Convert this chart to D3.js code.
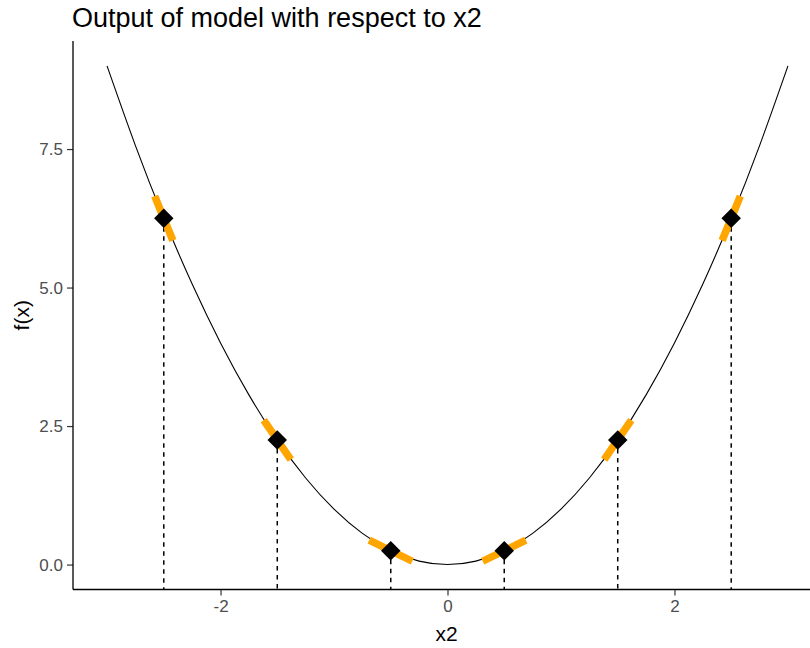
<!DOCTYPE html>
<html>
<head>
<meta charset="utf-8">
<script src="https://cdn.jsdelivr.net/npm/d3@7"></script>
<style>
  html, body { margin: 0; padding: 0; background: #fff; }
  svg { display: block; font-family: "Liberation Sans", Arial, sans-serif; }
</style>
</head>
<body>
<svg id="chart" width="810" height="648"></svg>
<script>
// Sampled model output f(x) along x2
const curveX = [-3, -2.75, -2.5, -2.25, -2, -1.75, -1.5, -1.25, -1, -0.75, -0.5, -0.25, 0,
                0.25, 0.5, 0.75, 1, 1.25, 1.5, 1.75, 2, 2.25, 2.5, 2.75, 3];
const curveY = [9, 7.5625, 6.25, 5.0625, 4, 3.0625, 2.25, 1.5625, 1, 0.5625, 0.25, 0.0625, 0,
                0.0625, 0.25, 0.5625, 1, 1.5625, 2.25, 3.0625, 4, 5.0625, 6.25, 7.5625, 9];

// Evaluation points with their local slopes
const pointX = [-2.5, -1.5, -0.5, 0.5, 1.5, 2.5];
const pointY = [6.25, 2.25, 0.25, 0.25, 2.25, 6.25];
const pointSlope = [-5, -3, -1, 1, 3, 5];

// Axis ticks
const xTicks = [-2, 0, 2];
const yTicks = [0, 2.5, 5, 7.5];
const yTickLabels = ["0.0", "2.5", "5.0", "7.5"];

const svg = d3.select("#chart");
const panel = { left: 73, right: 822, top: 41, bottom: 589.5 };

const x = d3.scaleLinear().domain([-3.3, 3.3]).range([panel.left, panel.right]);
const y = d3.scaleLinear().domain([-0.45, 9.45]).range([panel.bottom, panel.top]);

// Title
svg.append("text")
  .attr("x", 72).attr("y", 27)
  .attr("font-size", 27)
  .attr("fill", "#000")
  .text("Output of model with respect to x2");

// Axes
const xAxis = d3.axisBottom(x).tickValues(xTicks).tickSize(6).tickPadding(4)
  .tickFormat(d => d3.format("d")(d).replace("−", "-"));
const gx = svg.append("g").attr("transform", `translate(0,${panel.bottom})`).call(xAxis);
gx.select(".domain").remove();
gx.append("line").attr("x1", panel.left).attr("x2", 810).attr("stroke", "#000").attr("stroke-width", 1.3);

const yAxis = d3.axisLeft(y).tickValues(yTicks).tickSize(6).tickPadding(4)
  .tickFormat((d, i) => yTickLabels[i]);
const gy = svg.append("g").attr("transform", `translate(${panel.left},0)`).call(yAxis);
gy.select(".domain").remove();
gy.append("line").attr("y1", panel.top).attr("y2", panel.bottom).attr("stroke", "#000").attr("stroke-width", 1.3);

[gx, gy].forEach(g => {
  g.selectAll(".tick line").attr("stroke", "#333").attr("stroke-width", 1.2);
  g.selectAll(".tick text").attr("fill", "#4d4d4d").attr("font-size", 17)
    .attr("font-family", "'Liberation Sans', Arial, sans-serif");
});

// Axis titles
svg.append("text")
  .attr("x", (panel.left + 822) / 2 - 1).attr("y", 641)
  .attr("text-anchor", "middle").attr("font-size", 21).attr("fill", "#000")
  .text("x2");
svg.append("text")
  .attr("transform", `translate(29,${(panel.top + panel.bottom) / 2}) rotate(-90)`)
  .attr("text-anchor", "middle").attr("font-size", 21).attr("fill", "#000")
  .text("f(x)");

// Model curve
const line = d3.line().x(d => x(d[0])).y(d => y(d[1])).curve(d3.curveNatural);
svg.append("path")
  .datum(curveX.map((v, i) => [v, curveY[i]]))
  .attr("d", line)
  .attr("fill", "none").attr("stroke", "#000").attr("stroke-width", 1.1);

const pts = pointX.map((v, i) => ({ x: v, y: pointY[i], s: pointSlope[i] }));

// Drop lines from each point to the axis
svg.append("g").selectAll("line").data(pts).join("line")
  .attr("x1", d => x(d.x)).attr("x2", d => x(d.x))
  .attr("y1", d => y(d.y)).attr("y2", panel.bottom)
  .attr("stroke", "#000").attr("stroke-width", 1.5)
  .attr("stroke-dasharray", "4.5,4.5");

// Tangent segments, fixed on-screen length along the local slope
const half = 24;
svg.append("g").selectAll("line").data(pts).join("line")
  .each(function (d) {
    const dx = x(d.x + 1) - x(d.x);
    const dy = y(d.y + d.s) - y(d.y);
    const len = Math.hypot(dx, dy);
    const ux = dx / len * half, uy = dy / len * half;
    d3.select(this)
      .attr("x1", x(d.x) - ux).attr("y1", y(d.y) - uy)
      .attr("x2", x(d.x) + ux).attr("y2", y(d.y) + uy);
  })
  .attr("stroke", "#FFA500").attr("stroke-width", 7.5);

// Diamond markers
const diamond = d3.symbol().type(d3.symbolSquare).size(190);
svg.append("g").selectAll("path").data(pts).join("path")
  .attr("d", diamond)
  .attr("transform", d => `translate(${x(d.x)},${y(d.y)}) rotate(45)`)
  .attr("fill", "#000");
</script>
</body>
</html>
